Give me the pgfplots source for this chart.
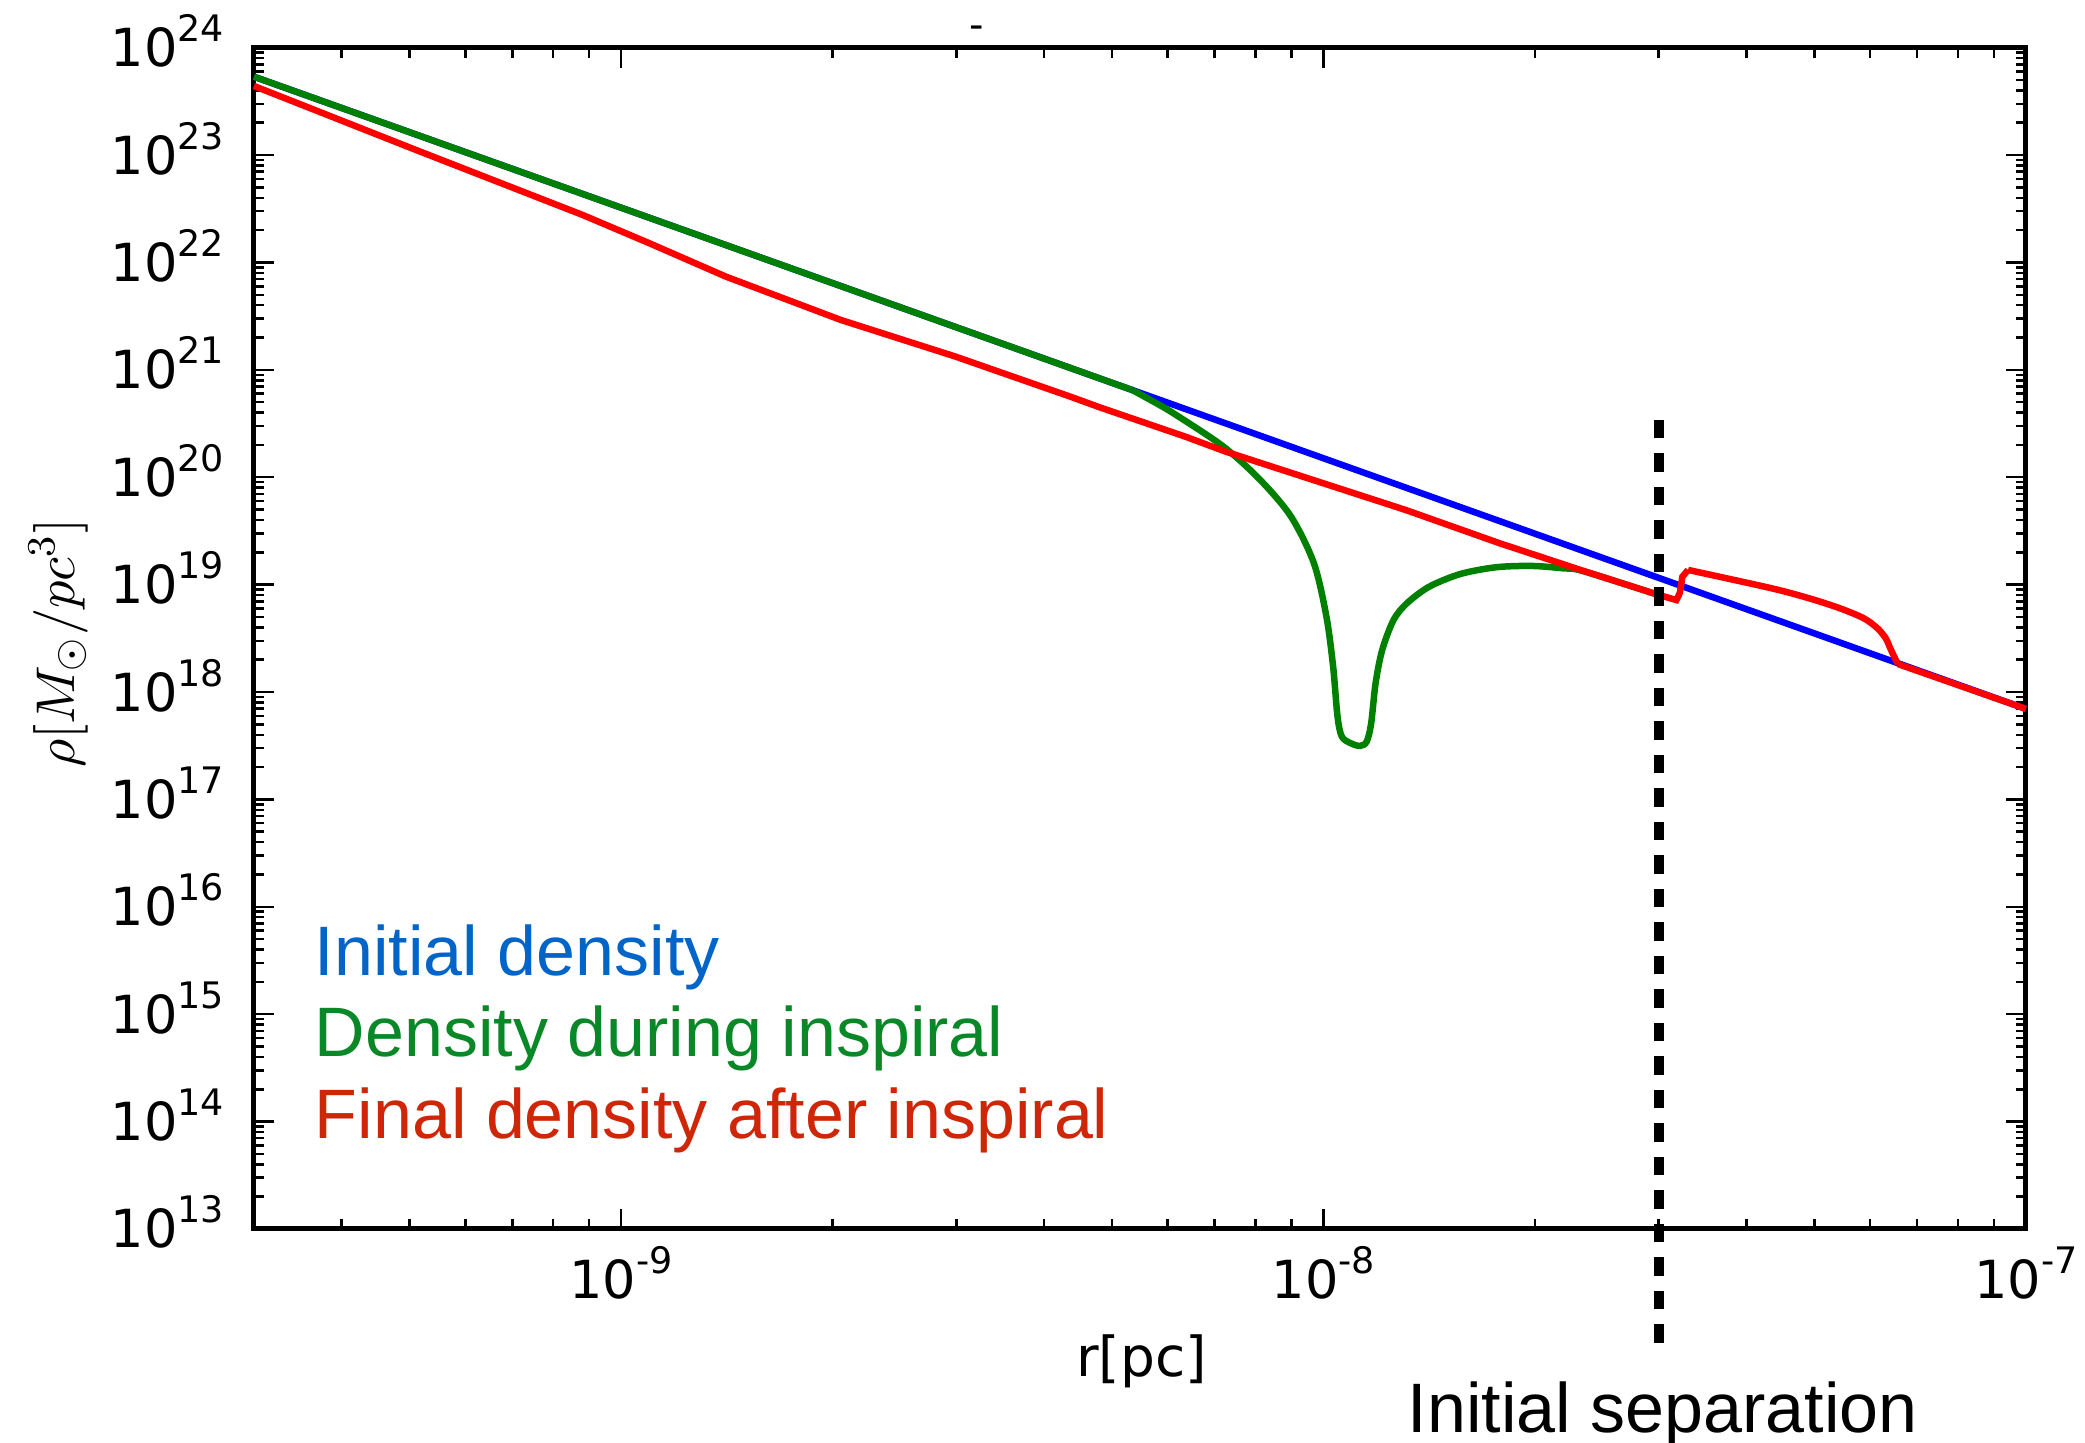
\documentclass[border=0pt]{standalone}
\usepackage{pgfplots}
\pgfplotsset{compat=1.18}
\usepackage{fontspec}
\setmainfont{Liberation Sans}
\newfontfamily\tickfont{DejaVu Sans}
\definecolor{cblue}{RGB}{0,0,255}
\definecolor{cgreen}{RGB}{0,128,0}
\definecolor{cred}{RGB}{255,0,0}
\definecolor{tblue}{RGB}{0,100,200}
\definecolor{tgreen}{RGB}{10,136,40}
\definecolor{tred}{RGB}{208,38,8}
\newcommand{\pw}[1]{10\raisebox{5bp}{\fontsize{7.3bp}{8bp}\selectfont #1}}
\begin{document}
\begin{tikzpicture}
\path[use as bounding box] (0,0) rectangle (417bp,288.6bp);
\begin{axis}[
  at={(50.8bp,42.8bp)}, anchor=south west, scale only axis,
  width=354.4bp, height=236.26bp,
  xmode=log, ymode=log,
  xmin=3e-10, xmax=1e-7, ymin=1e13, ymax=1e24,
  axis line style={line width=1bp},
  tick style={black, line width=0.5bp},
  major tick length=4bp, minor tick length=2bp,
  xtick={1e-9,1e-8,1e-7},
  xticklabels={\pw{-9},\pw{-8},\pw{-7}},
  minor xtick={4e-10,5e-10,6e-10,7e-10,8e-10,9e-10,2e-9,3e-9,4e-9,5e-9,6e-9,7e-9,8e-9,9e-9,2e-8,3e-8,4e-8,5e-8,6e-8,7e-8,8e-8,9e-8},
  ytick={1e13,1e14,1e15,1e16,1e17,1e18,1e19,1e20,1e21,1e22,1e23,1e24},
  yticklabels={\pw{13},\pw{14},\pw{15},\pw{16},\pw{17},\pw{18},\pw{19},\pw{20},\pw{21},\pw{22},\pw{23},\pw{24}},
  ticklabel style={font=\tickfont\fontsize{10.5bp}{12bp}\selectfont},
  xticklabel style={anchor=base, inner sep=0pt, yshift=-13.86bp},
  yticklabel style={anchor=base east, inner sep=0pt, xshift=-5.8bp, yshift=-3.8bp},
  clip=false,
]
% Initial density
\addplot[cblue, line width=1.3bp] coordinates {
  (3.0e-10,5.37e23) (1e-7,6.97e17)
};
% Density during inspiral
\addplot[cgreen, line width=1.3bp] coordinates {
  (3.0e-10,5.37e23) (5.348e-9,6.47e20)
};
\addplot[cgreen, line width=1.3bp, smooth, tension=0.5] coordinates {
  (5.348e-9,6.47e20) (5.827e-9,4.75e20) (6.168e-9,3.80e20)
  (7.205e-9,1.928e20) (8.128e-9,9.42e19) (8.990e-9,4.30e19)
  (9.69e-9,1.58e19) (1.0095e-8,5.04e18) (1.032e-8,1.72e18) (1.047e-8,5.89e17)
  (1.062e-8,3.84e17) (1.094e-8,3.33e17) (1.127e-8,3.15e17) (1.152e-8,3.45e17)
  (1.169e-8,5.12e17) (1.186e-8,1.205e18) (1.212e-8,2.46e18) (1.258e-8,4.69e18)
  (1.314e-8,6.70e18) (1.414e-8,9.57e18) (1.566e-8,1.256e19) (1.761e-8,1.452e19)
  (1.980e-8,1.493e19) (2.193e-8,1.419e19) (2.339e-8,1.340e19) (2.999e-8,8.02e18)
};
% Final density after inspiral
\addplot[cred, line width=1.3bp] coordinates {
  (3.0e-10,4.40e23) (5.107e-10,1.114e23) (8.817e-10,2.767e22) (1.097e-9,1.510e22)
  (1.410e-9,7.38e21) (2.056e-9,2.911e21) (2.995e-9,1.327e21) (4.364e-9,5.62e20)
  (4.800e-9,4.48e20) (6.358e-9,2.388e20) (7.261e-9,1.730e20) (1.310e-8,4.95e19)
  (1.782e-8,2.427e19) (2.339e-8,1.349e19) (2.999e-8,8.02e18) (3.180e-8,7.19e18)
  (3.215e-8,8.32e18) (3.243e-8,1.186e19) (3.304e-8,1.371e19)
};
\addplot[cred, line width=1.3bp, smooth, tension=0.5] coordinates {
  (3.304e-8,1.371e19) (4.343e-8,9.25e18)
  (4.914e-8,7.46e18) (5.433e-8,6.03e18) (5.878e-8,4.86e18) (6.145e-8,3.93e18)
  (6.317e-8,3.162e18) (6.427e-8,2.46e18) (6.571e-8,1.824e18)
};
\addplot[cred, line width=1.3bp] coordinates {
  (6.571e-8,1.824e18) (1e-7,6.97e17)
};
% Initial separation
\addplot[black, line width=2bp, dash pattern=on 3.7bp off 3bp] coordinates {
  (3e-8,8.71e11) (3e-8,4.3e20)
};
\node[anchor=base west, inner sep=0pt, text=tblue, font=\fontsize{14bp}{16bp}\selectfont] at (rel axis cs:0.0339,0.2150) {Initial density};
\node[anchor=base west, inner sep=0pt, text=tgreen, font=\fontsize{14bp}{16bp}\selectfont] at (rel axis cs:0.0339,0.1459) {Density during inspiral};
\node[anchor=base west, inner sep=0pt, text=tred, font=\fontsize{14bp}{16bp}\selectfont] at (rel axis cs:0.0339,0.0768) {Final density after inspiral};
\node[anchor=base, inner sep=0pt, font=\fontsize{14bp}{16bp}\selectfont] at (rel axis cs:0.7951,-0.1724) {Initial separation};
\node[anchor=base, inner sep=0pt, font=\tickfont\fontsize{11bp}{13bp}\selectfont] at (rel axis cs:0.501,-0.125) {r[pc]};
\node[rotate=90, anchor=center, inner sep=0pt, font=\fontsize{11bp}{13bp}\selectfont] at (rel axis cs:-0.1104,0.496) {$\rho[M_\odot/pc^3]$};
\node[inner sep=0pt, font=\tickfont\fontsize{8bp}{8bp}\selectfont] at (rel axis cs:0.4077,1.0133) {-};
\end{axis}
\end{tikzpicture}
\end{document}
